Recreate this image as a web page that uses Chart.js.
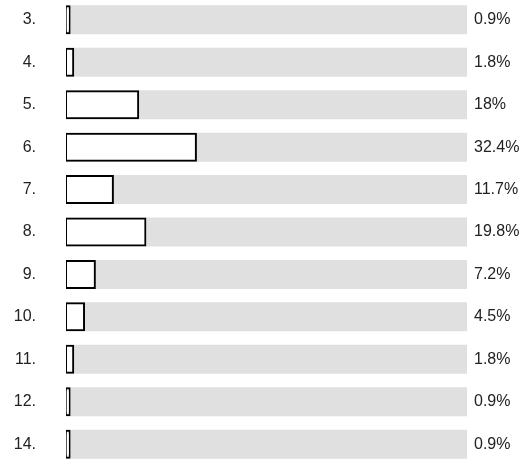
<!DOCTYPE html>
<html>
<head>
<meta charset="utf-8">
<script src="https://cdn.jsdelivr.net/npm/chart.js@4/dist/chart.umd.min.js"></script>
<style>
html,body{margin:0;padding:0;background:#fff;overflow:hidden;}
#wrap{position:relative;width:531px;height:461px;overflow:hidden;}
#c{position:absolute;left:0;top:-11px;}
</style>
</head>
<body>
<div id="wrap"><canvas id="c" width="531" height="486"></canvas></div>
<script>
const categories = ["3.", "4.", "5.", "6.", "7.", "8.", "9.", "10.", "11.", "12.", "14."];
const percentValues = [0.9, 1.8, 18, 32.4, 11.7, 19.8, 7.2, 4.5, 1.8, 0.9, 0.9];
const trackValues = [100, 100, 100, 100, 100, 100, 100, 100, 100, 100, 100];

const FONT = '"Liberation Sans", Arial, sans-serif';

const valueLabels = {
  id: 'valueLabels',
  afterDatasetsDraw(chart) {
    const ctx = chart.ctx;
    const yScale = chart.scales.y;
    ctx.save();
    ctx.font = '16px ' + FONT;
    ctx.fillStyle = '#222';
    ctx.textAlign = 'left';
    ctx.textBaseline = 'middle';
    percentValues.forEach((v, i) => {
      const y = yScale.getPixelForValue(i);
      ctx.fillText(v + '%', chart.chartArea.right + 7, y);
    });
    ctx.restore();
  }
};

new Chart(document.getElementById('c'), {
  type: 'bar',
  data: {
    labels: categories,
    datasets: [
      {
        data: percentValues,
        backgroundColor: '#ffffff',
        borderColor: '#000000',
        borderWidth: 2,
        borderSkipped: false,
        inflateAmount: 1,
        barThickness: 27,
        order: 0
      },
      {
        data: trackValues,
        backgroundColor: '#e0e0e0',
        borderWidth: 0,
        inflateAmount: 0,
        barThickness: 29,
        order: 1
      }
    ]
  },
  options: {
    indexAxis: 'y',
    responsive: false,
    animation: false,
    events: [],
    datasets: { bar: { grouped: false } },
    layout: { padding: { top: 0, bottom: 0, right: 64, left: 0 } },
    plugins: { legend: { display: false }, tooltip: { enabled: false } },
    scales: {
      x: { display: false, min: 0, max: 100 },
      y: {
        offset: true,
        grid: { display: true, drawOnChartArea: false, drawTicks: true, tickLength: 30, color: 'rgba(0,0,0,0)' },
        border: { display: false },
        ticks: {
          color: '#222',
          padding: 0,
          font: { family: FONT, size: 16 }
        },
        afterFit(scale) { scale.width = 66; }
      }
    }
  },
  plugins: [valueLabels]
});
</script>
</body>
</html>
